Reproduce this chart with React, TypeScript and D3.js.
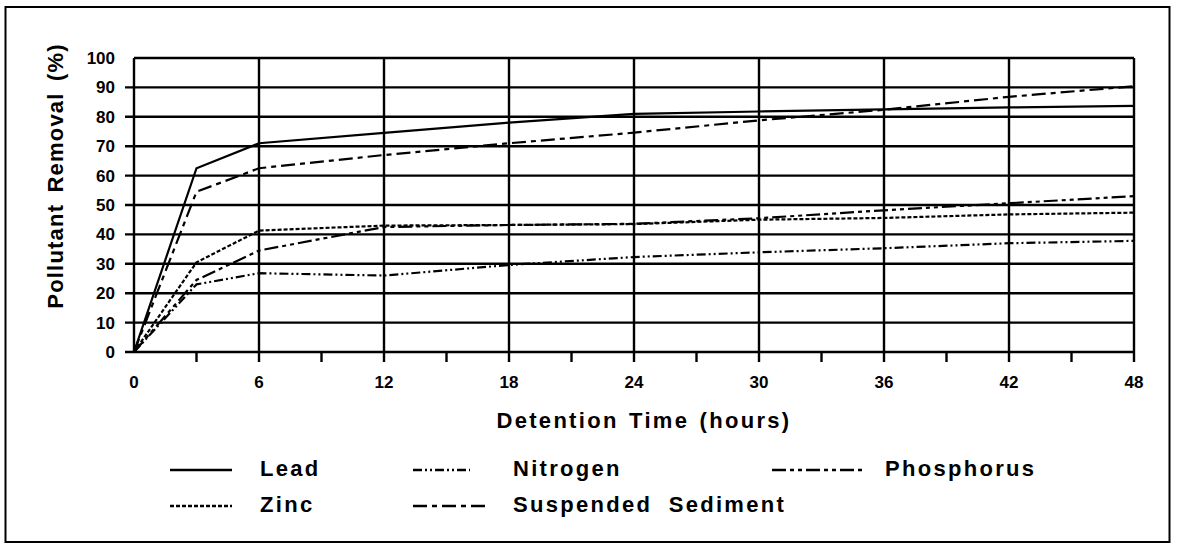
import React from "react";
import * as d3 from "d3";

// detention time (hours) at which removal was read
const hours = [0, 3, 6, 12, 18, 24, 30, 36, 42, 48];

const lead = [0, 62.5, 71, 74.5, 78, 81, 81.8, 82.5, 83.2, 83.7];
const zinc = [0, 30.5, 41.3, 43, 43.2, 43.5, 45, 45.6, 46.8, 47.4];
const nitrogen = [0, 23, 26.8, 26, 29.6, 32.3, 33.9, 35.3, 37, 37.8];
const phosphorus = [0, 24.5, 34.5, 42.5, 43.2, 43.6, 45.5, 48.2, 50.6, 53];
const sediment = [0, 54.5, 62.5, 67, 71, 74.6, 78.8, 82.4, 86.8, 90.4];

const yTicks = [0, 10, 20, 30, 40, 50, 60, 70, 80, 90, 100];
const xTicks = [0, 6, 12, 18, 24, 30, 36, 42, 48];
const xMinor = [3, 9, 15, 21, 27, 33, 39, 45];

const seriesNames = ["Lead", "Zinc", "Nitrogen", "Suspended Sediment", "Phosphorus"];
const seriesValues = [lead, zinc, nitrogen, sediment, phosphorus];
const dashes = ["none", "4,2", "9,3,2,3,2,3", "14,5,5,5", "14,4,4,4,4,4"];

const W = 1177;
const H = 550;
const left = 134;
const right = 1134;
const top = 58;
const bottom = 352;
const font = "'Liberation Sans', Arial, sans-serif";

const App = () => {
  const x = d3.scaleLinear().domain([0, 48]).range([left, right]);
  const y = d3.scaleLinear().domain([0, 100]).range([bottom, top]);
  const line = d3
    .line<number>()
    .x((_, i) => x(hours[i]))
    .y(d => y(d));

  // legend slots: [lineX1, lineX2, textX, baseline]
  const legendSlots = [
    [170, 232, 260, 476],
    [170, 232, 260, 512],
    [413, 470, 513, 476],
    [413, 485, 513, 512],
    [772, 862, 885, 476]
  ];

  return (
    <svg width={W} height={H} style={{ display: "block", position: "absolute", left: 0, top: 0 }}>
      <rect x={5.5} y={7} width={1164} height={535} fill="white" stroke="black" strokeWidth={2} />

      {/* horizontal grid, extended into left tick marks */}
      {yTicks.map(t => (
        <line key={"h" + t} x1={t === 100 ? left : 125} x2={right} y1={y(t)} y2={y(t)} stroke="black" strokeWidth={2.4} />
      ))}
      {yTicks.map(t => (
        <text key={"yl" + t} x={115} y={y(t) + 6} textAnchor="end" fontFamily={font} fontWeight="bold" fontSize={17}>
          {t}
        </text>
      ))}

      {/* vertical grid */}
      {xTicks.map(t => (
        <line key={"v" + t} x1={x(t)} x2={x(t)} y1={top} y2={t === 0 ? bottom : 362} stroke="black" strokeWidth={2.4} />
      ))}
      {xMinor.map(t => (
        <line key={"m" + t} x1={x(t)} x2={x(t)} y1={bottom} y2={362} stroke="black" strokeWidth={2.4} />
      ))}
      {xTicks.map(t => (
        <text key={"xl" + t} x={x(t)} y={388} textAnchor="middle" fontFamily={font} fontWeight="bold" fontSize={17}>
          {t}
        </text>
      ))}

      {/* series */}
      {seriesValues.map((vals, i) => (
        <path key={seriesNames[i]} d={line(vals) || ""} fill="none" stroke="black" strokeWidth={2.2} strokeDasharray={dashes[i]} />
      ))}

      {/* axis titles */}
      <text
        transform={"translate(63,176) rotate(-90)"}
        textAnchor="middle"
        fontFamily={font}
        fontWeight="bold"
        fontSize={22}
        wordSpacing={4}
        letterSpacing={1.2}
      >
        Pollutant Removal (%)
      </text>
      <text x={644} y={428} textAnchor="middle" fontFamily={font} fontWeight="bold" fontSize={22} wordSpacing={2} letterSpacing={2.3}>
        Detention Time (hours)
      </text>

      {/* legend */}
      {seriesNames.map((name, i) => {
        const s = legendSlots[i];
        return (
          <g key={"lg" + name}>
            <line x1={s[0]} x2={s[1]} y1={s[3] - 6} y2={s[3] - 6} stroke="black" strokeWidth={2.4} strokeDasharray={dashes[i]} />
            <text x={s[2]} y={s[3]} fontFamily={font} fontWeight="bold" fontSize={22} wordSpacing={8} letterSpacing={2.3}>
              {name}
            </text>
          </g>
        );
      })}
    </svg>
  );
};

export default App;
